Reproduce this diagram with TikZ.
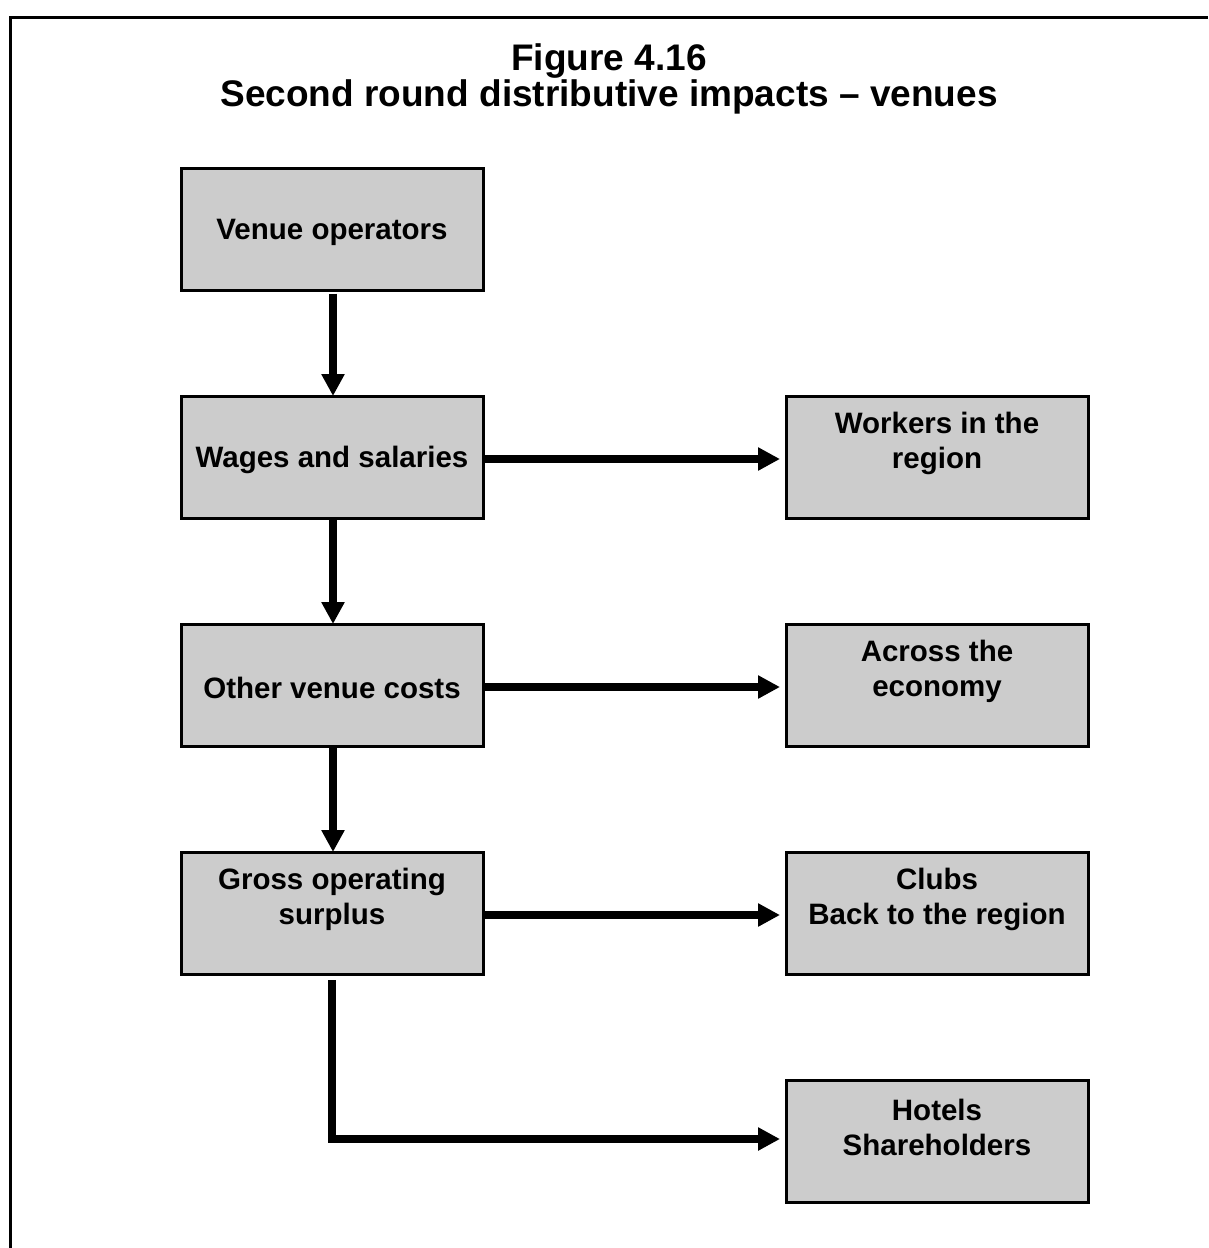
\documentclass[tikz,border=0pt]{standalone}
\usepackage{fontspec}
\setmainfont{Liberation Sans}
\usetikzlibrary{arrows.meta}
\definecolor{boxgray}{HTML}{CCCCCC}
\begin{document}
\begin{tikzpicture}[x=1pt,y=-1pt,
  box/.style={draw=black,line width=3pt,fill=boxgray,minimum width=302pt,minimum height=122pt,inner sep=0pt,outer sep=0pt},
  lbl/.style={font=\fontsize{29.5}{35}\selectfont\bfseries,align=center,inner sep=0pt},
  arr/.style={line width=8pt,-{Triangle[length=22pt,width=22pt]}},
  border/.style={line width=3pt}]
\useasboundingbox (0,0) rectangle (1208,1248);
\draw[border] (10,1248) -- (10,17) -- (1208,17);
\node[font=\fontsize{37}{36}\selectfont\bfseries,align=center,inner sep=0pt] (title) at (609,78.5) {Figure 4.16\\Second round distributive impacts – venues};

\node[box] (vo) at (332,229.5) {};
\node[box] (ws) at (332,457) {};
\node[box] (oc) at (332,685) {};
\node[box] (gs) at (332,913) {};
\node[box] (wr) at (937,457) {};
\node[box] (ae) at (937,685) {};
\node[box] (cb) at (937,913) {};
\node[box] (hs) at (937,1141) {};

\node[lbl] (tvo) at (332,232.5) {Venue operators};
\node[lbl] (tws) at (332,460) {Wages and salaries};
\node[lbl] (toc) at (332,688) {Other venue costs};
\node[lbl] (tgs) at (332,899) {Gross operating\\surplus};
\node[lbl] (twr) at (937,443) {Workers in the\\region};
\node[lbl] (tae) at (937,671) {Across the\\economy};
\node[lbl] (tcb) at (937,899) {Clubs\\Back to the region};
\node[lbl] (ths) at (937,1127) {Hotels\\Shareholders};

\draw[arr] ([xshift=1pt,yshift=-3pt]vo.south) -- ([xshift=1pt]ws.north);
\draw[arr] ([xshift=1pt,yshift=-2pt]ws.south) -- ([xshift=1pt]oc.north);
\draw[arr] ([xshift=1pt,yshift=-2pt]oc.south) -- ([xshift=1pt]gs.north);
\draw[arr] ([yshift=-2pt]ws.east) -- ([xshift=-6pt,yshift=-2pt]wr.west);
\draw[arr] ([yshift=-2pt]oc.east) -- ([xshift=-6pt,yshift=-2pt]ae.west);
\draw[arr] ([yshift=-2pt]gs.east) -- ([xshift=-6pt,yshift=-2pt]cb.west);
\draw[arr,line join=miter] ([yshift=-6pt]gs.south) |- ([xshift=-6pt,yshift=2pt]hs.west);
\end{tikzpicture}
\end{document}
